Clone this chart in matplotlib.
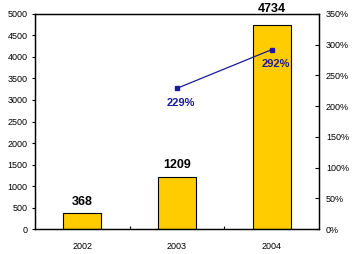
import matplotlib
matplotlib.use('Agg')
import matplotlib.pyplot as plt
import numpy as np

plt.rcParams['font.family'] = ['Liberation Sans', 'DejaVu Sans']

# 数据
years = ['2002', '2003', '2004']
values = [368, 1209, 4734]
growth_years = ['2003', '2004']
growth = [229, 292]  # %

bar_color = '#FFCC00'
line_color = '#1A1A9A'

fig = plt.figure(figsize=(3.55, 2.54), dpi=100)
ax = fig.add_axes([0.0986, 0.0984, 0.8, 0.8465])

x = np.arange(len(years))
ax.bar(x, values, width=0.4, color=bar_color, edgecolor='black', linewidth=0.8, zorder=2)

# 柱顶标签
label_pad = [4, 4, 7.5]
for xi, v, p in zip(x, values, label_pad):
    ax.annotate(str(v), (xi, v), xytext=(0, p), textcoords='offset points',
                ha='center', va='bottom', fontsize=9, fontweight='bold',
                annotation_clip=False)

ax.set_xlim(-0.5, 2.5)
ax.set_ylim(0, 5000)
ax.set_yticks(np.arange(0, 5001, 500))
ax.set_xticks(x)
ax.set_xticklabels(years)
ax.set_xticks([0.5, 1.5], minor=True)
ax.tick_params(axis='x', which='major', length=0, pad=9, labelsize=6.5)
ax.tick_params(axis='x', which='minor', direction='in', length=2.5, width=0.8)
ax.tick_params(axis='y', direction='out', length=2.5, width=0.8, pad=3, labelsize=6.5)
for s in ax.spines.values():
    s.set_linewidth(0.9)

# 增长率（右轴）
ax2 = ax.twinx()
gx = [years.index(y) for y in growth_years]
ax2.plot(gx, growth, color=line_color, lw=0.9, marker='s', markersize=2.2, zorder=3)
for xi, g in zip(gx, growth):
    ax2.annotate(f'{g}%', (xi, g), xytext=(3, -7), textcoords='offset points',
                 ha='center', va='top', fontsize=8, fontweight='bold', color=line_color)
ax2.set_ylim(0, 350)
ax2.set_yticks(np.arange(0, 351, 50))
ax2.set_yticklabels([f'{t}%' for t in range(0, 351, 50)])
ax2.tick_params(axis='y', direction='in', length=3, width=0.8, pad=5, labelsize=6.5)
for s in ax2.spines.values():
    s.set_linewidth(0.9)

fig.savefig('out.png', dpi=100)
